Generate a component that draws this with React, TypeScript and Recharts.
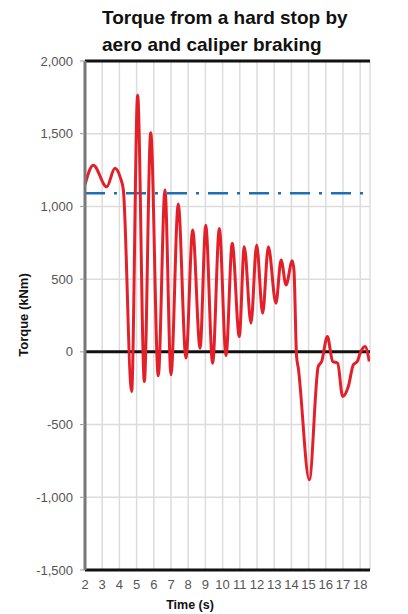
import React from 'react';
import { LineChart, Line, XAxis, YAxis, CartesianGrid, ReferenceLine } from 'recharts';

// values
const timeS = [
  2.0, 2.48, 3.26, 3.74, 4.05, 4.23, 4.71, 5.06, 5.45, 5.82, 6.26, 6.65, 7.0, 7.42, 7.87,
  8.26, 8.69, 9.02, 9.42, 9.81, 10.2, 10.56, 10.97, 11.26, 11.65, 11.98, 12.33, 12.66,
  13.1, 13.4, 13.69, 14.05, 14.15, 14.3, 14.4, 15.04, 15.56, 15.76, 16.09, 16.4, 16.69,
  16.98, 17.31, 17.6, 17.83, 18.0, 18.28, 18.53,
];
const torqueKNm = [
  1150, 1284, 1135, 1262, 1200, 1113, -272, 1765, -204, 1506, -165, 1113, -158, 1016, -43,
  838, 25, 870, -78, 849, -25, 746, 105, 723, 197, 735, 266, 723,
  334, 632, 460, 627, 560, -30, -110, -879, -101, -66, 105, -66, -78,
  -307, -238, -89, -66, -9, 36, -66,
];
const referenceTorque = 1090;

const xTicks = [2, 3, 4, 5, 6, 7, 8, 9, 10, 11, 12, 13, 14, 15, 16, 17, 18];
const yTicks = [-1500, -1000, -500, 0, 500, 1000, 1500, 2000];

const data = timeS.map((t, i) => ({ t, torque: torqueKNm[i] }));

const tickStyle = { fill: '#555', fontSize: 13, fontFamily: 'Liberation Sans, Arial, sans-serif' };

const App: React.FC = () => {
  return (
    <div style={{ position: 'absolute', left: 0, top: 0, width: 408, height: 614, background: '#fff' }}>
      <div
        style={{
          position: 'absolute', left: 102, top: 4, fontFamily: 'Liberation Sans, Arial, sans-serif',
          fontWeight: 'bold', fontSize: 19, lineHeight: '27px', color: '#111', whiteSpace: 'nowrap',
        }}
      >
        Torque from a hard stop by<br />aero and caliper braking
      </div>
      <LineChart
        width={408}
        height={614}
        data={data}
        margin={{ top: 61, right: 38, bottom: 0, left: 0 }}
      >
        <CartesianGrid stroke="#dcdcdc" strokeWidth={1.5} />
        <XAxis
          dataKey="t"
          type="number"
          domain={[2, 18.57]}
          ticks={xTicks}
          interval={0}
          allowDataOverflow
          height={44}
          tickLine={false}
          tickSize={6}
          tickMargin={4}
          axisLine={{ stroke: '#111', strokeWidth: 3 }}
          tick={tickStyle}
        />
        <YAxis
          type="number"
          domain={[-1500, 2000]}
          ticks={yTicks}
          interval={0}
          width={85}
          tickSize={5}
          tickMargin={7}
          tickLine={{ stroke: '#999' }}
          axisLine={{ stroke: '#777', strokeWidth: 3 }}
          tick={tickStyle}
          tickFormatter={(v: number) => v.toLocaleString('en-US')}
        />
        <ReferenceLine y={2000} stroke="#111" strokeWidth={3} />
        <ReferenceLine y={0} stroke="#111" strokeWidth={3} />
        <ReferenceLine y={referenceTorque} stroke="#1f6fb5" strokeWidth={2.5} strokeDasharray="20 9 3 9" />
        <Line
          type="monotone"
          dataKey="torque"
          stroke="#e3202a"
          strokeWidth={3}
          dot={false}
          isAnimationActive={false}
        />
      </LineChart>
      <div
        style={{
          position: 'absolute', left: 23, top: 315, transform: 'translate(-50%, -50%) rotate(-90deg)',
          fontFamily: 'Liberation Sans, Arial, sans-serif', fontWeight: 'bold', fontSize: 13,
          color: '#111', whiteSpace: 'nowrap',
        }}
      >
        Torque (kNm)
      </div>
      <div
        style={{
          position: 'absolute', left: 190, top: 605, transform: 'translate(-50%, -50%)',
          fontFamily: 'Liberation Sans, Arial, sans-serif', fontWeight: 'bold', fontSize: 12.5,
          color: '#111', whiteSpace: 'nowrap',
        }}
      >
        Time (s)
      </div>
    </div>
  );
};

export default App;
